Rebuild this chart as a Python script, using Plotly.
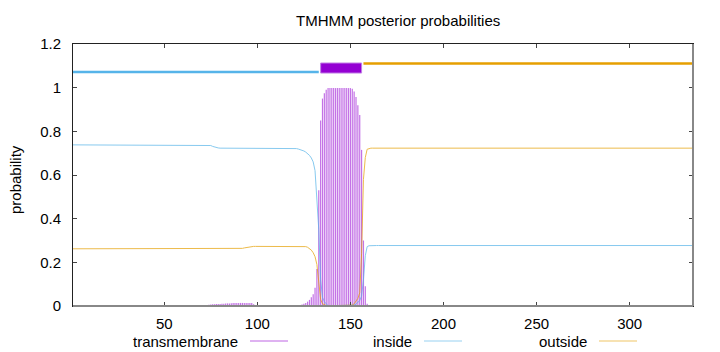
import plotly.graph_objects as go

# ---------------- data ----------------
positions = list(range(1, 335))

inside_prob = ([0.738] * 74
               + [0.735, 0.731, 0.728, 0.725, 0.724]
               + [0.723] * 40
               + [0.722, 0.721, 0.719, 0.717, 0.714, 0.710, 0.705, 0.698, 0.690, 0.678]
               + [0.660, 0.620, 0.500, 0.350, 0.120, 0.040, 0.020, 0.008]
               + [0.001] * 13
               + [0.001, 0.004, 0.008, 0.015, 0.025, 0.045, 0.120, 0.230, 0.272, 0.276]
               + [0.277] * 174)

outside_prob = ([0.262] * 90
                + [0.263, 0.264, 0.266, 0.268, 0.270, 0.271, 0.272, 0.273]
                + [0.273] * 27
                + [0.272, 0.269, 0.264, 0.256, 0.244, 0.226, 0.190, 0.120, 0.030, 0.010, 0.005, 0.002]
                + [0.001] * 13
                + [0.004, 0.010, 0.020, 0.035, 0.060, 0.240, 0.580, 0.680, 0.718, 0.722]
                + [0.723] * 174)

tm_prob = ([0.0] * 72
           + [0.004, 0.006, 0.007, 0.008, 0.008, 0.009, 0.009, 0.009, 0.010, 0.010, 0.011, 0.012, 0.012, 0.013]
           + [0.014] * 11
           + [0.008, 0.004, 0.002, 0.001]
           + [0.001] * 18
           + [0.002, 0.003, 0.004, 0.005, 0.007, 0.010, 0.014, 0.020, 0.028, 0.040,
              0.054, 0.084, 0.170, 0.530, 0.850, 0.950, 0.975, 0.990]
           + [0.998] * 13
           + [0.995, 0.982, 0.957, 0.920, 0.875, 0.715, 0.300, 0.090, 0.010, 0.002]
           + [0.0] * 174)

topo_labels = ["inside", "TMhelix", "outside"]
topo_start = [1, 134, 157]
topo_end = [133, 156, 334]

x_ticks = [50, 100, 150, 200, 250, 300]
y_ticks = [0, 0.2, 0.4, 0.6, 0.8, 1, 1.2]

# ---------------- style ----------------
PURPLE = "#9400D3"
BLUE = "#56B4E9"
ORANGE = "#E69F00"
FONT = "Liberation Sans, Arial, sans-serif"
FS = 15

L, R, T, B = 73, 27, 44, 46
W, H = 720, 352
PW, PH = W - L - R, H - T - B


def px2paper_x(px):
    return (px - L) / PW


def px2paper_y(py):
    return (H - B - py) / PH


fig = go.Figure()

# impulses for transmembrane probability
imp_x, imp_y = [], []
for p, v in zip(positions, tm_prob):
    imp_x += [p, p, None]
    imp_y += [0, v, None]
fig.add_trace(go.Scatter(x=imp_x, y=imp_y, mode="lines",
                         line=dict(color=PURPLE, width=1.2), opacity=0.55,
                         hoverinfo="skip", showlegend=False))

fig.add_trace(go.Scatter(x=positions, y=inside_prob, mode="lines",
                         line=dict(color=BLUE, width=1), opacity=0.7,
                         showlegend=False))
fig.add_trace(go.Scatter(x=positions, y=outside_prob, mode="lines",
                         line=dict(color=ORANGE, width=1), opacity=0.7,
                         showlegend=False))

# topology bars on top
levels = {"inside": 1.072, "outside": 1.111}
colors = {"inside": BLUE, "outside": ORANGE}
for lab, s, e in zip(topo_labels, topo_start, topo_end):
    if lab == "TMhelix":
        fig.add_trace(go.Scatter(x=[s, e, e, s, s],
                                 y=[1.067, 1.067, 1.113, 1.113, 1.067],
                                 mode="lines", fill="toself",
                                 fillcolor=PURPLE,
                                 line=dict(color="#C27FE6", width=1),
                                 showlegend=False))
    else:
        fig.add_trace(go.Scatter(x=[s, e], y=[levels[lab]] * 2, mode="lines",
                                 line=dict(color=colors[lab], width=2.5),
                                 showlegend=False))

# borders (gray bottom/right like reference)
shapes = [
    dict(type="line", xref="paper", yref="paper", x0=0, x1=1, y0=0, y1=0,
         line=dict(color="#888888", width=2)),
    dict(type="line", xref="paper", yref="paper", x0=1, x1=1, y0=0, y1=1,
         line=dict(color="#888888", width=2)),
]

# manual legend (gnuplot style: text then line sample)
annotations = []
legend_items = [("transmembrane", 240, 250, 288, PURPLE),
                ("inside", 414, 424, 462, BLUE),
                ("outside", 589, 599, 637, ORANGE)]
for text, tx, l0, l1, col in legend_items:
    annotations.append(dict(text=text, xref="paper", yref="paper",
                            x=px2paper_x(tx), y=px2paper_y(341),
                            xanchor="right", yanchor="middle", showarrow=False,
                            font=dict(family=FONT, size=FS, color="#000")))
    shapes.append(dict(type="line", xref="paper", yref="paper",
                       x0=px2paper_x(l0), x1=px2paper_x(l1),
                       y0=px2paper_y(341), y1=px2paper_y(341),
                       line=dict(color=col, width=1), opacity=0.6))

annotations.append(dict(text="probability", xref="paper", yref="paper",
                        x=px2paper_x(15), y=px2paper_y(180), textangle=-90,
                        xanchor="center", yanchor="middle", showarrow=False,
                        font=dict(family=FONT, size=FS, color="#000")))
annotations.append(dict(text="TMHMM posterior probabilities", xref="paper", yref="paper",
                        x=px2paper_x(398), y=px2paper_y(20), xanchor="center", yanchor="middle",
                        showarrow=False,
                        font=dict(family=FONT, size=FS, color="#000")))

fig.update_layout(
    width=W, height=H,
    margin=dict(l=L, r=R, t=T, b=B),
    paper_bgcolor="white", plot_bgcolor="white",
    font=dict(family=FONT, size=FS, color="#000"),
    shapes=shapes, annotations=annotations,
    showlegend=False,
)
fig.update_xaxes(range=[1, 334], tickvals=x_ticks, ticks="inside", ticklen=4,
                 tickcolor="#444", showgrid=False, zeroline=False,
                 showline=True, linecolor="#222", linewidth=1, mirror="ticks",
                 ticklabelstandoff=4, tickfont=dict(family=FONT, size=FS))
fig.update_yaxes(range=[0, 1.2], tickvals=y_ticks, ticks="inside", ticklen=4,
                 tickcolor="#444", showgrid=False, zeroline=False,
                 showline=True, linecolor="#222", linewidth=1, mirror="ticks",
                 ticklabelstandoff=8, tickfont=dict(family=FONT, size=FS))

fig.write_html("out.html")
